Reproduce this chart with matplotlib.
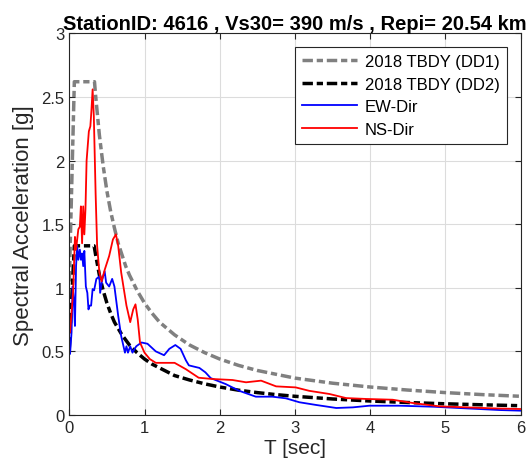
import numpy as np
import matplotlib.pyplot as plt

plt.rcParams['font.family'] = ['Liberation Sans', 'DejaVu Sans']

# design spectra (TBDY 2018)
T_dd1 = [0, 0.067, 0.335, 0.35, 0.4, 0.45, 0.5, 0.55, 0.6, 0.65, 0.7, 0.75, 0.8, 0.9, 1.0,
         1.1, 1.2, 1.4, 1.6, 1.8, 2.0, 2.25, 2.5, 2.75, 3.0, 3.5, 4.0, 4.5, 5.0, 5.5, 6.0]
Sa_dd1 = [1.05, 2.62, 2.62, 2.51, 2.20, 1.96, 1.76, 1.60, 1.47, 1.35, 1.26, 1.17, 1.10, 0.98, 0.88,
          0.80, 0.73, 0.63, 0.55, 0.49, 0.44, 0.39, 0.35, 0.32, 0.29, 0.25, 0.22, 0.196, 0.176, 0.16, 0.147]
T_dd2 = [0, 0.067, 0.33, 0.35, 0.4, 0.45, 0.5, 0.55, 0.6, 0.65, 0.7, 0.75, 0.8, 0.9, 1.0,
         1.1, 1.2, 1.4, 1.6, 1.8, 2.0, 2.25, 2.5, 2.75, 3.0, 3.5, 4.0, 4.5, 5.0, 5.5, 6.0]
Sa_dd2 = [0.53, 1.33, 1.33, 1.26, 1.10, 0.98, 0.88, 0.80, 0.73, 0.68, 0.63, 0.59, 0.55, 0.49, 0.44,
          0.40, 0.37, 0.31, 0.275, 0.245, 0.22, 0.195, 0.176, 0.16, 0.147, 0.126, 0.11, 0.098, 0.088, 0.08, 0.073]

# recorded spectra
T_ew = [0, 0.01, 0.03, 0.044, 0.06, 0.075, 0.09, 0.105, 0.12, 0.14, 0.155, 0.17, 0.185, 0.2, 0.22,
        0.24, 0.255, 0.27, 0.29, 0.31, 0.33, 0.36, 0.40, 0.41, 0.44, 0.47, 0.49, 0.53, 0.57, 0.60,
        0.65, 0.69, 0.74, 0.76, 0.78, 0.81, 0.84, 0.89, 0.96, 1.04, 1.15, 1.26, 1.33, 1.41, 1.48,
        1.55, 1.59, 1.73, 1.81, 1.88, 2.08, 2.26, 2.48, 2.70, 2.88, 3.06, 3.28, 3.55, 3.77, 3.99,
        4.39, 4.84, 5.28, 5.72, 6.0]
Sa_ew = [0.48, 0.48, 0.65, 1.01, 0.91, 0.70, 1.17, 1.33, 1.22, 1.30, 1.22, 1.27, 1.17, 1.29, 1.01,
         0.96, 0.83, 0.86, 0.86, 0.99, 0.98, 1.07, 1.09, 0.96, 1.07, 1.13, 1.04, 1.01, 1.07, 1.01,
         0.78, 0.62, 0.49, 0.54, 0.49, 0.54, 0.49, 0.54, 0.57, 0.56, 0.50, 0.47, 0.52, 0.55, 0.52,
         0.43, 0.39, 0.37, 0.335, 0.29, 0.243, 0.19, 0.144, 0.144, 0.131, 0.10, 0.079, 0.055, 0.06, 0.073,
         0.073, 0.065, 0.052, 0.039, 0.034]
T_ns = [0, 0.01, 0.05, 0.075, 0.09, 0.12, 0.14, 0.154, 0.17, 0.185, 0.2, 0.215, 0.23, 0.26, 0.28,
        0.295, 0.31, 0.326, 0.35, 0.37, 0.40, 0.43, 0.47, 0.53, 0.58, 0.62, 0.65, 0.69, 0.76, 0.81,
        0.85, 0.88, 0.91, 0.94, 1.0, 1.07, 1.15, 1.24, 1.40, 1.55, 1.72, 1.90, 2.17, 2.35, 2.55,
        2.75, 3.01, 3.19, 3.46, 3.68, 3.95, 4.30, 4.57, 4.92, 5.28, 5.64, 6.0]
Sa_ns = [0.65, 0.65, 0.96, 1.40, 1.30, 1.46, 1.48, 1.64, 1.35, 1.64, 1.42, 1.62, 2.0, 2.23, 2.27,
         2.40, 2.56, 2.35, 1.74, 1.33, 1.12, 1.05, 1.14, 1.25, 1.38, 1.42, 1.33, 1.12, 0.86, 0.73,
         0.83, 0.87, 0.75, 0.57, 0.49, 0.44, 0.41, 0.41, 0.41, 0.36, 0.293, 0.283, 0.275, 0.257, 0.27,
         0.225, 0.217, 0.19, 0.165, 0.133, 0.126, 0.12, 0.094, 0.068, 0.06, 0.052, 0.047]

fig = plt.figure(figsize=(5.29, 4.77), dpi=100)
ax = fig.add_axes([0.131, 0.1279, 0.853, 0.8000])

dash = (0, (3.0, 1.1, 1.8, 1.1))
ax.plot(T_dd1, Sa_dd1, color='#808080', lw=2.5, ls=dash, label='2018 TBDY (DD1)')
ax.plot(T_dd2, Sa_dd2, color='black', lw=2.5, ls=dash, label='2018 TBDY (DD2)')
ax.plot(T_ew, Sa_ew, color='blue', lw=1.3, label='EW-Dir')
ax.plot(T_ns, Sa_ns, color='red', lw=1.3, label='NS-Dir')

ax.set_xlim(0, 6)
ax.set_ylim(0, 3)
ax.set_xticks(np.arange(0, 7, 1))
ax.set_yticks(np.arange(0, 3.5, 0.5))
ax.set_yticklabels(['0', '0.5', '1', '1.5', '2', '2.5', '3'])
ax.grid(True, color='#dcdcdc', lw=0.8)
ax.set_axisbelow(True)
ax.tick_params(direction='in', top=True, right=True, labelsize=12, colors='#262626', length=4)
for s in ax.spines.values():
    s.set_color('#262626')
    s.set_linewidth(0.8)

ax.set_xlabel('T [sec]', fontsize=15, color='#262626', labelpad=2)
ax.set_ylabel('Spectral Acceleration [g]', fontsize=16, color='#262626', labelpad=5)
ax.set_title('StationID: 4616 , Vs30= 390 m/s , Repi= 20.54 km', fontsize=14.5,
             fontweight='bold', pad=3)

leg = ax.legend(loc='upper right', fontsize=12, fancybox=False, framealpha=1,
                edgecolor='#262626', handlelength=3.3, borderaxespad=0.8,
                labelspacing=0.45, handletextpad=0.45, borderpad=0.45)
leg.get_frame().set_linewidth(0.8)

fig.savefig('out.png', dpi=100)
